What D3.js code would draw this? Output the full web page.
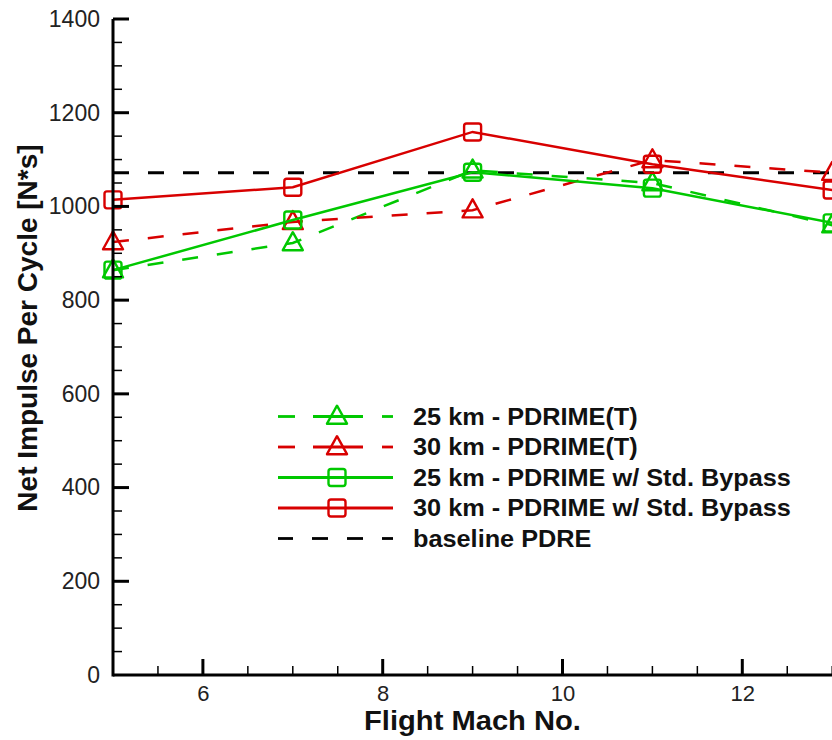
<!DOCTYPE html>
<html><head><meta charset="utf-8">
<script src="https://cdn.jsdelivr.net/npm/d3@7"></script>
<style>body{margin:0;background:#fff}svg{display:block}text{font-family:"Liberation Sans",Arial,sans-serif}</style>
</head><body>
<svg id="c" width="832" height="740"></svg>
<script>
const mach = [5, 7, 9, 11, 13];
const pdrimeT25 = [864, 922, 1077, 1050, 960];
const pdrimeT30 = [924, 967, 992, 1099, 1072];
const bypass25 = [864, 971, 1073, 1039, 965];
const bypass30 = [1014, 1041, 1159, 1090, 1035];
const baseline = 1072;
const xTicks = [6, 8, 10, 12];
const yTicks = [0, 200, 400, 600, 800, 1000, 1200, 1400];
const legendLabels = ["25 km - PDRIME(T)", "30 km - PDRIME(T)", "25 km - PDRIME w/ Std. Bypass", "30 km - PDRIME w/ Std. Bypass", "baseline PDRE"];

const GREEN = "#00c800", RED = "#d80000";
const svg = d3.select("#c");
const x0 = 113, y0 = 675;
const x = d3.scaleLinear().domain([5, 14]).range([x0, x0 + 9 * 89.9]);
const y = d3.scaleLinear().domain([0, 1400]).range([y0, 19]);

const series = [
  {vals: pdrimeT25, color: GREEN, dash: "16,19", marker: "tri"},
  {vals: pdrimeT30, color: RED, dash: "16,19", marker: "tri"},
  {vals: bypass25, color: GREEN, dash: null, marker: "sq"},
  {vals: bypass30, color: RED, dash: null, marker: "sq"}
];

// baseline
svg.append("line").attr("x1", x(5)).attr("x2", 832).attr("y1", y(baseline)).attr("y2", y(baseline))
  .attr("stroke", "#000").attr("stroke-width", 3).attr("stroke-dasharray", "16,19");

const line = d3.line().x((d, i) => x(mach[i])).y(d => y(d));
function marker(g, type, cx, cy, color) {
  if (type === "sq") {
    g.append("rect").attr("x", cx - 8.5).attr("y", cy - 8.5).attr("width", 17).attr("height", 17).attr("rx", 2.5)
      .attr("fill", "none").attr("stroke", color).attr("stroke-width", 2.4);
  } else {
    const s = 20, h = 18;
    g.append("path").attr("d", `M${cx},${cy - h * 0.6}L${cx + s / 2},${cy + h * 0.4}L${cx - s / 2},${cy + h * 0.4}Z`)
      .attr("fill", "none").attr("stroke", color).attr("stroke-width", 2.4).attr("stroke-linejoin", "round");
  }
}
series.forEach(s => {
  svg.append("path").datum(s.vals).attr("d", line).attr("fill", "none").attr("stroke", s.color)
    .attr("stroke-width", 2.5).attr("stroke-dasharray", s.dash);
  const g = svg.append("g");
  s.vals.forEach((v, i) => marker(g, s.marker, x(mach[i]), y(v), s.color));
});

// axes
const xAxis = svg.append("g").attr("transform", `translate(0,${y0})`)
  .call(d3.axisBottom(x).tickValues(xTicks).tickSize(0).tickFormat(d3.format("d")));
xAxis.select(".domain").remove();
xAxis.selectAll("text").attr("y", 26).attr("dy", null).attr("font-size", 22).attr("fill", "#222");
svg.append("line").attr("x1", x0).attr("x2", 832).attr("y1", y0).attr("y2", y0).attr("stroke", "#000").attr("stroke-width", 3);
d3.range(5.5, 14, 0.5).forEach(v => {
  const major = xTicks.includes(v);
  svg.append("line").attr("x1", x(v)).attr("x2", x(v)).attr("y1", y0).attr("y2", y0 - (major ? 16 : 9))
    .attr("stroke", "#000").attr("stroke-width", major ? 3 : 1.5);
});

const yAxis = svg.append("g").attr("transform", `translate(${x0},0)`)
  .call(d3.axisLeft(y).tickValues(yTicks).tickSize(0).tickPadding(13).tickFormat(d3.format("d")));
yAxis.select(".domain").remove();
yAxis.selectAll("text").attr("font-size", 23).attr("fill", "#222");
svg.append("line").attr("x1", x0).attr("x2", x0).attr("y1", y(1400)).attr("y2", y0 + 1.5).attr("stroke", "#000").attr("stroke-width", 3);
d3.range(50, 1400, 50).concat([1400]).forEach(v => {
  const major = v % 200 === 0;
  svg.append("line").attr("x1", x0).attr("x2", x0 + (major ? 16 : 9)).attr("y1", y(v)).attr("y2", y(v))
    .attr("stroke", "#000").attr("stroke-width", major ? 3 : 1.5);
});

svg.append("text").attr("transform", "translate(472.5,730) scale(1.06,1)").attr("text-anchor", "middle").attr("font-size", 27.5)
  .attr("font-weight", "bold").attr("fill", "#111").text("Flight Mach No.");
svg.append("text").attr("transform", "translate(37,328) rotate(-90)").attr("text-anchor", "middle")
  .attr("font-size", 28).attr("font-weight", "bold").attr("fill", "#111").text("Net Impulse Per Cycle [N*s]");

// legend
const lg = svg.append("g");
const legendStyles = [...series, {color: "#000", dash: "blk", marker: null}];
legendStyles.forEach((s, i) => {
  const ly = 416.5 + i * 30.5;
  let segs;
  if (s.marker && s.dash) segs = [[278, 295], [313, 363], [382, 393]];
  else if (s.dash) segs = [[278, 293], [312, 328], [347, 363], [382, 393]];
  else segs = [[278, 393]];
  segs.forEach(([a, b]) =>
    lg.append("line").attr("x1", a).attr("x2", b).attr("y1", ly).attr("y2", ly).attr("stroke", s.color).attr("stroke-width", 2.8));
  if (s.marker) marker(lg, s.marker, 337, ly, s.color);
  lg.append("text").attr("transform", `translate(413,${ly + 8.3}) scale(1.1,1)`).attr("font-size", 23).attr("font-weight", "bold")
    .attr("fill", "#111").text(legendLabels[i]);
});
</script>
</body></html>
